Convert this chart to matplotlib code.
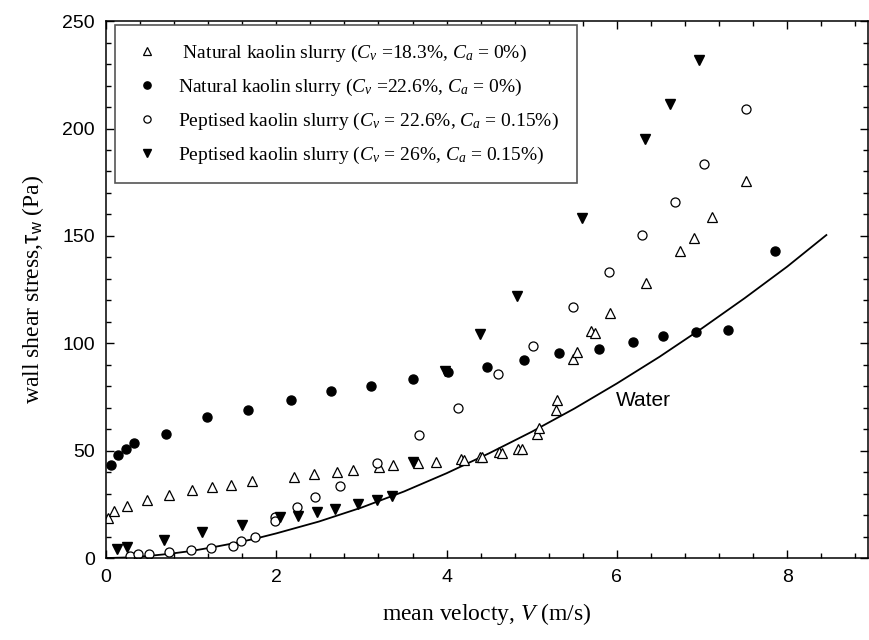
import matplotlib
matplotlib.use("Agg")
import matplotlib.pyplot as plt
from matplotlib.ticker import MultipleLocator

plt.rcParams['font.family'] = ['Liberation Sans', 'DejaVu Sans']
plt.rcParams['mathtext.fontset'] = 'custom'
plt.rcParams['mathtext.rm'] = 'Liberation Serif'
plt.rcParams['mathtext.it'] = 'Liberation Serif:italic'
plt.rcParams['mathtext.sf'] = 'Liberation Sans'

# natural kaolin, Cv=18.3%, Ca=0% (open triangles)
v_nat183 = [0.02, 0.10, 0.25, 0.48, 0.74, 1.01, 1.25, 1.47, 1.71, 2.21, 2.44, 2.71, 2.90,
            3.21, 3.37, 3.67, 3.87, 4.17, 4.21, 4.39, 4.42, 4.62, 4.65, 4.84, 4.88,
            5.06, 5.09, 5.29, 5.30, 5.49, 5.53, 5.70, 5.74, 5.92, 6.34, 6.74, 6.91, 7.12, 7.52]
t_nat183 = [18.5, 22.0, 24.2, 27.0, 29.6, 31.7, 32.9, 34.1, 35.8, 37.9, 39.1, 40.2, 41.0,
            42.2, 43.2, 44.1, 44.8, 45.9, 45.6, 46.9, 46.9, 49.3, 49.0, 50.9, 50.7,
            57.7, 60.7, 68.9, 73.6, 92.8, 95.8, 105.7, 104.9, 113.9, 127.9, 143.1, 149.0, 158.8, 175.6]

# natural kaolin, Cv=22.6%, Ca=0% (filled circles)
v_nat226 = [0.06, 0.14, 0.23, 0.33, 0.70, 1.19, 1.67, 2.17, 2.64, 3.11, 3.60, 4.02, 4.47,
            4.91, 5.32, 5.79, 6.19, 6.54, 6.93, 7.31, 7.86]
t_nat226 = [43.2, 48.0, 50.7, 53.7, 58.0, 65.5, 68.9, 73.6, 77.7, 79.9, 83.5, 86.6, 88.8,
            92.2, 95.3, 97.5, 100.7, 103.5, 105.2, 106.3, 143.1]

# peptised kaolin, Cv=22.6%, Ca=0.15% (open circles)
v_pep226 = [0.28, 0.38, 0.50, 0.74, 1.00, 1.23, 1.49, 1.58, 1.75, 1.98, 1.98, 2.24, 2.46,
            2.75, 3.18, 3.68, 4.13, 4.60, 5.02, 5.48, 5.91, 6.30, 6.68, 7.02, 7.52]
t_pep226 = [1.1, 1.9, 2.0, 2.9, 3.7, 4.7, 5.6, 8.1, 9.6, 19.2, 17.2, 23.7, 28.3,
            33.7, 44.2, 57.4, 69.8, 85.7, 98.8, 116.9, 133.1, 150.5, 165.6, 183.4, 209.2]

# peptised kaolin, Cv=26%, Ca=0.15% (filled down triangles)
v_pep26 = [0.13, 0.25, 0.68, 1.13, 1.60, 2.04, 2.25, 2.48, 2.69, 2.96, 3.18, 3.36,
           3.60, 3.98, 4.39, 4.83, 5.59, 6.33, 6.62, 6.96]
t_pep26 = [4.0, 5.3, 8.2, 12.0, 15.5, 18.9, 19.5, 21.6, 22.8, 25.3, 26.9, 28.9,
           44.6, 87.1, 104.1, 122.1, 158.4, 194.9, 211.4, 231.8]

# water line
v_water = [0.0, 0.25, 0.5, 0.75, 1.0, 1.25, 1.5, 1.75, 2.0, 2.5, 3.0, 3.5, 4.0, 4.5, 5.0,
           5.5, 6.0, 6.5, 7.0, 7.5, 8.0, 8.46]
t_water = [0.0, 0.3, 1.0, 2.0, 3.3, 5.0, 6.9, 9.0, 11.5, 17.0, 23.5, 31.0, 39.5, 48.8, 58.8,
           69.6, 81.3, 93.7, 107.0, 121.0, 135.7, 150.4]

labels = [r" Natural kaolin slurry ($C_v$ =18.3%, $C_a$ = 0%)",
          r"Natural kaolin slurry ($C_v$ =22.6%, $C_a$ = 0%)",
          r"Peptised kaolin slurry ($C_v$ = 22.6%, $C_a$ = 0.15%)",
          r"Peptised kaolin slurry ($C_v$ = 26%, $C_a$ = 0.15%)"]

fig = plt.figure(figsize=(8.7, 6.4), dpi=100)
ax = fig.add_axes([0.1218, 0.128, 0.876, 0.839])

ax.plot(v_water, t_water, color='black', lw=1.3, zorder=1)
ax.plot(v_nat183, t_nat183, ls='none', marker='^', ms=6.5, mfc='white', mec='black', mew=0.9, label=labels[0])
ax.plot(v_nat226, t_nat226, ls='none', marker='o', ms=6.5, mfc='black', mec='black', label=labels[1])
ax.plot(v_pep226, t_pep226, ls='none', marker='o', ms=6.5, mfc='white', mec='black', mew=0.9, label=labels[2])
ax.plot(v_pep26, t_pep26, ls='none', marker='v', ms=6.5, mfc='black', mec='black', label=labels[3])

ax.text(5.99, 73.5, "Water", fontsize=15, va='center', ha='left')

ax.set_xlim(0, 8.95)
ax.set_ylim(0, 250)
ax.xaxis.set_major_locator(MultipleLocator(2))
ax.xaxis.set_minor_locator(MultipleLocator(0.4))
ax.yaxis.set_major_locator(MultipleLocator(50))
ax.yaxis.set_minor_locator(MultipleLocator(10))
ax.tick_params(which='both', direction='in', top=True, right=True, labelsize=14, width=1)
ax.tick_params(which='major', length=6, pad=8)
ax.tick_params(which='minor', length=3.5)
for s in ax.spines.values():
    s.set_linewidth(1.1)

ax.set_xlabel(r"mean velocty, $\mathsf{\mathit{V}}$ (m/s)", family='Liberation Serif', fontsize=17, labelpad=11)
ax.set_ylabel(r"wall shear stress,$\mathsf{\tau_w}$ (Pa)", family='Liberation Serif', fontsize=17, labelpad=12)

leg = ax.legend(loc='upper left', bbox_to_anchor=(0.004, 1.003), prop={'family': 'Liberation Serif', 'size': 14},
                fancybox=False, framealpha=1, edgecolor='#555555', markerscale=0.8,
                handlelength=1.5, handletextpad=0.85, borderpad=0.9, labelspacing=0.66, borderaxespad=0.3)
leg.get_frame().set_linewidth(1.2)

fig.savefig("out.png", dpi=100)
